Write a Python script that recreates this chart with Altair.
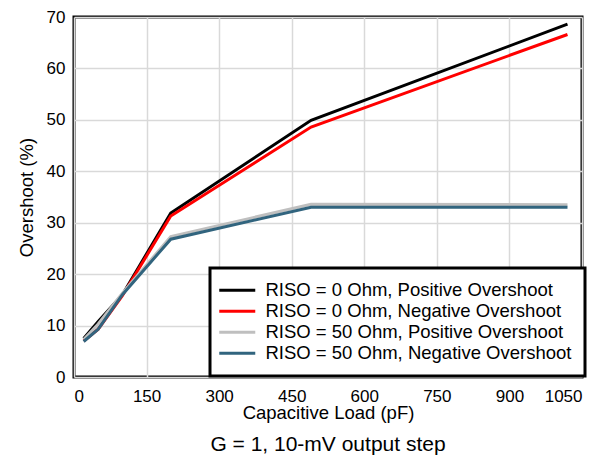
import altair as alt
import pandas as pd

cap_pf = [20, 50, 100, 200, 490, 1020]
series_names = [
    "RISO = 0 Ohm, Positive Overshoot",
    "RISO = 0 Ohm, Negative Overshoot",
    "RISO = 50 Ohm, Positive Overshoot",
    "RISO = 50 Ohm, Negative Overshoot",
]
riso0_pos = [7.5, 10.8, 16.0, 31.9, 49.9, 68.6]
riso0_neg = [7.0, 9.3, 15.8, 31.3, 48.6, 66.6]
riso50_pos = [7.3, 10.3, 16.3, 27.3, 33.6, 33.5]
riso50_neg = [6.9, 9.3, 16.0, 26.8, 33.0, 33.0]
colors = ["#000000", "#ff0000", "#bfbfbf", "#31647e"]

rows = []
for name, vals in zip(series_names, [riso0_pos, riso0_neg, riso50_pos, riso50_neg]):
    for i, (c, v) in enumerate(zip(cap_pf, vals)):
        rows.append({"series": name, "cap": c, "overshoot": v, "order": i})
df = pd.DataFrame(rows)

font = "Liberation Sans"

chart = alt.Chart(df).mark_line(strokeWidth=3).encode(
    x=alt.X("cap:Q", scale=alt.Scale(domain=[0, 1050], nice=False),
            axis=alt.Axis(values=[0, 150, 300, 450, 600, 750, 900, 1050],
                          format="d", title="Capacitive Load (pF)")),
    y=alt.Y("overshoot:Q", scale=alt.Scale(domain=[0, 70], nice=False),
            axis=alt.Axis(values=[0, 10, 20, 30, 40, 50, 60, 70],
                          format="d", title="Overshoot (%)")),
    color=alt.Color("series:N",
                    scale=alt.Scale(domain=series_names, range=colors),
                    legend=alt.Legend(title=" ", titleOrient="right",
                                      titleFontSize=18.5, titlePadding=0,
                                      orient="none",
                                      legendX=136, legendY=251)),
    order="order:Q",
).properties(
    width=508, height=360,
    title=alt.TitleParams("G = 1, 10-mV output step", orient="bottom",
                          font=font, fontSize=21, fontWeight="normal",
                          color="#000000", offset=12),
    autosize=alt.AutoSizeParams(type="none"),
    padding={"left": 66, "top": 9, "right": 24, "bottom": 79},
).configure_view(
    stroke="#000000", strokeWidth=3
).configure_axis(
    labelFont=font, titleFont=font, labelFontSize=17, titleFontSize=18.5,
    labelColor="#000000", titleColor="#000000", titleFontWeight="normal",
    grid=True, gridColor="#d9d9d9", gridWidth=1.5, ticks=False,
    domain=False,
).configure_axisX(
    labelPadding=11, titlePadding=-1
).configure_axisY(
    labelPadding=9, titlePadding=10
).configure_legend(
    labelFont=font, labelFontSize=18.5, labelColor="#000000",
    titleFont=font,
    symbolType="M-4.33,0L7.67,0", symbolSize=36, symbolStrokeWidth=3,
    rowPadding=2, labelOffset=24,
    strokeColor="#000000", strokeWidth=3, fillColor="#ffffff",
    padding=13, labelLimit=400,
)

chart.save("out.html", embed_options={"renderer": "svg", "actions": False})
